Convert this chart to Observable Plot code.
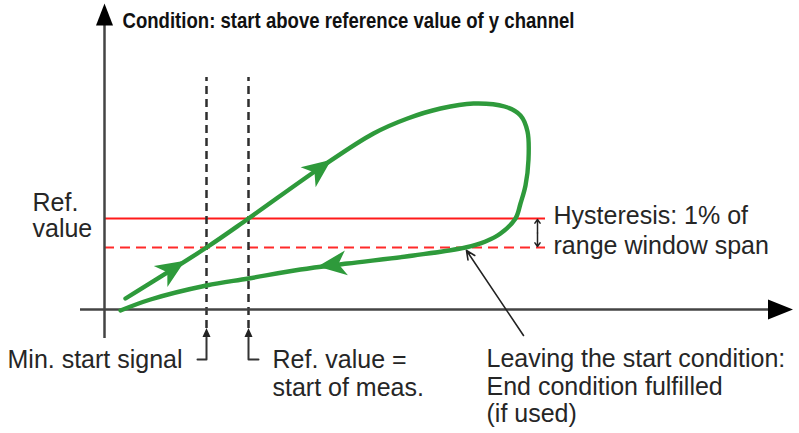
<!DOCTYPE html>
<html>
<head>
<meta charset="utf-8">
<script src="https://cdn.jsdelivr.net/npm/d3@7"></script>
<script src="https://cdn.jsdelivr.net/npm/@observablehq/plot@0.6"></script>
<style>
  html, body { margin: 0; padding: 0; background: #fff; overflow: hidden; }
  #chart svg { display: block; }
</style>
</head>
<body>
<div id="chart"></div>
<script>
// ---- Data (diagram units; origin = axes intersection) ----
const refValue = 91;          // solid red reference level
const hysteresisLow = 62;     // dashed red level (ref - 1% span)
const refLineEnd = 441;
const markerX = [102, 144];   // min. start signal, ref value = start of meas.
const markerTop = 232;
const markerBottom = -19;

// hysteresis loop (one continuous path)
const loopX = [21, 102, 144, 219, 269, 303, 336, 369, 400, 416, 423, 424, 421, 416, 411, 396, 381, 361, 309, 243, 196, 144, 102, 46, 16];
const loopY = [11, 62, 91, 144, 176, 191, 201, 206, 203, 194, 178, 150, 124, 106, 91, 76, 68, 62, 54, 46, 40, 31, 24, 10, -1];

// direction arrowheads on the loop
const headX = [67, 214, 229];
const headY = [40, 140, 45];
const headAngle = [57, 53, 263];

// bracket connectors below the axis
const bracketX = [[102, 102, 93], [144, 144, 154]];
const bracketY = [[-28, -50, -50], [-28, -50, -50]];

// axes
const yAxisSpan = [-29, 289];
const xAxisSpan = [-24, 668];

// leader line to "Leaving the start condition"
const leaderFrom = [419, -26];
const leaderTo = [362, 59];

// labels
const labelText = ["Ref.", "value", "Hysteresis: 1% of", "range window span", "Min. start signal", "Ref. value =", "start of meas.", "Leaving the start condition:", "End condition fulfilled", "(if used)"];
const labelX = [-72, -72, 449, 449, -97, 168, 168, 382, 382, 382];
const labelY = [99, 73, 86, 56, -58, -58, -86, -57, -85, -112];
const titleText = "Condition: start above reference value of y channel";
const titleX = 18, titleY = 282;

// ---- helpers ----
const green = "#2e9a3b";
const ink = "#262626";
function barbSymbol() {
  return {draw(ctx) {
    ctx.moveTo(0, -16);
    ctx.lineTo(12.5, 13);
    ctx.lineTo(0, 5);
    ctx.lineTo(-12.5, 13);
    ctx.closePath();
  }};
}
function triSymbol(w, l) {
  return {draw(ctx) {
    ctx.moveTo(0, -l / 2);
    ctx.lineTo(w / 2, l / 2);
    ctx.lineTo(-w / 2, l / 2);
    ctx.closePath();
  }};
}

const loop = loopX.map((x, i) => ({x, y: loopY[i]}));
const heads = headX.map((x, i) => ({x, y: headY[i], a: headAngle[i]}));
const brackets = bracketX.flatMap((xs, k) => xs.map((x, i) => ({x, y: bracketY[k][i], k})));
const labels = labelText.map((t, i) => ({t, x: labelX[i], y: labelY[i]}));
const mid = (refValue + hysteresisLow) / 2;

const chart = Plot.plot({
  width: 799,
  height: 433,
  margin: 0,
  x: {type: "linear", domain: [-104, 695], range: [0, 799]},
  y: {type: "linear", domain: [-124, 309], range: [433, 0]},
  axis: null,
  style: {fontFamily: "'Liberation Sans', Arial, sans-serif", background: "#fff", overflow: "visible"},
  marks: [
    // red reference lines
    Plot.ruleY([refValue], {x1: 0, x2: refLineEnd, stroke: "#ff1a1a", strokeWidth: 2}),
    Plot.ruleY([hysteresisLow], {x1: 0, x2: refLineEnd, stroke: "#ff2a2a", strokeWidth: 2, strokeDasharray: "10,6"}),
    // vertical dashed markers
    Plot.ruleX(markerX, {y1: markerBottom, y2: markerTop, stroke: "#2e2e2e", strokeWidth: 2.5, strokeDasharray: "8,5"}),
    Plot.dot(markerX, {x: d => d, y: markerBottom - 4, symbol: triSymbol(8, 9), fill: "#222", stroke: "none", r: 5}),
    Plot.line(brackets, {x: "x", y: "y", z: "k", stroke: "#333", strokeWidth: 2}),
    // axes
    Plot.ruleX([0], {y1: yAxisSpan[0], y2: yAxisSpan[1], stroke: "#444", strokeWidth: 2.5}),
    Plot.ruleY([0], {x1: xAxisSpan[0], x2: xAxisSpan[1], stroke: "#444", strokeWidth: 2.5}),
    Plot.dot([0], {x: 0, y: 295, symbol: triSymbol(17, 22), fill: "#000", stroke: "none", r: 12}),
    Plot.dot([0], {x: 676, y: 0, symbol: triSymbol(20, 25), rotate: 90, fill: "#000", stroke: "none", r: 12}),
    // hysteresis loop
    Plot.line(loop, {x: "x", y: "y", curve: "catmull-rom", stroke: green, strokeWidth: 4.4, strokeLinecap: "round"}),
    Plot.dot(heads, {x: "x", y: "y", rotate: "a", symbol: barbSymbol(), fill: green, stroke: "none", r: 14}),
    // hysteresis double arrow
    Plot.arrow([{a: mid, b: refValue - 1}, {a: mid, b: hysteresisLow + 1}], {x1: 433, y1: "a", x2: 433, y2: "b", stroke: "#222", strokeWidth: 1.5, headLength: 7, headAngle: 70}),
    // leader line
    Plot.arrow([0], {x1: leaderFrom[0], y1: leaderFrom[1], x2: leaderTo[0], y2: leaderTo[1], stroke: "#222", strokeWidth: 1.6, headLength: 9, headAngle: 50}),
    // labels
    Plot.text(labels, {x: "x", y: "y", text: "t", textAnchor: "start", lineAnchor: "bottom", fontSize: 25, fill: ink}),
    Plot.text([titleText], {x: titleX, y: titleY, text: d => d, textAnchor: "start", lineAnchor: "bottom", fontSize: 21.5, fontWeight: "bold", fill: "#111", className: "title-text"})
  ]
});
document.getElementById("chart").appendChild(chart);
// condense the bold title to the reference's narrow width
const t = chart.querySelector(".title-text text") || chart.querySelector("text.title-text");
if (t) { t.setAttribute("textLength", 452); t.setAttribute("lengthAdjust", "spacingAndGlyphs"); }
</script>
</body>
</html>
